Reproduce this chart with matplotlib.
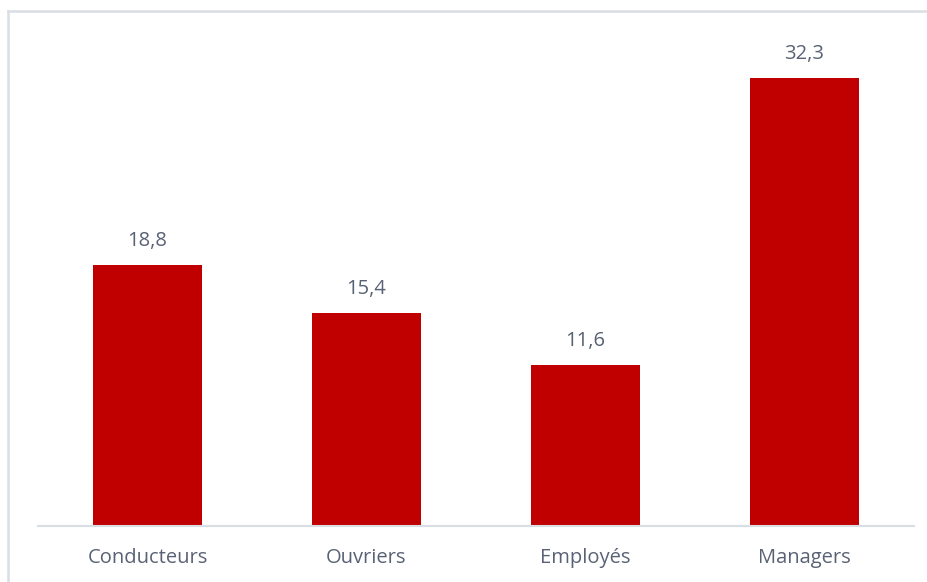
import matplotlib
matplotlib.use("Agg")
import matplotlib.pyplot as plt
from matplotlib.lines import Line2D

categories = ["Conducteurs", "Ouvriers", "Employés", "Managers"]
values = [18.8, 15.4, 11.6, 32.3]

bar_color = "#C00000"
text_color = "#596275"
line_color = "#D9DDE4"

plt.rcParams["font.family"] = ["Open Sans", "DejaVu Sans"]

fig = plt.figure(figsize=(9.28, 5.82), dpi=100)
W, H = 928, 582
ax = fig.add_axes([38 / W, (H - 526) / H, (914 - 38) / W, (526 - 20) / H])

x = range(len(categories))
bars = ax.bar(x, values, width=0.50, color=bar_color, zorder=2)

ax.set_xlim(-0.5, len(categories) - 0.5)
ax.set_ylim(0, 36.5)

for b, v in zip(bars, values):
    ax.annotate(f"{v:.1f}".replace(".", ","),
                (b.get_x() + b.get_width() / 2, v),
                xytext=(0, 10), textcoords="offset points",
                ha="center", va="bottom", fontsize=14.5, color=text_color)

for s in ("top", "right", "left"):
    ax.spines[s].set_visible(False)
ax.spines["bottom"].set_color(line_color)
ax.spines["bottom"].set_linewidth(1.5)
ax.set_yticks([])
ax.set_xticks(list(x))
ax.set_xticklabels(categories, fontsize=14.5, color=text_color)
ax.tick_params(axis="x", length=0, pad=16)

# outer frame, only top and left edges fall inside the image
fig.add_artist(Line2D([8 / W, 8 / W], [0, 1 - 11 / H], transform=fig.transFigure,
                      color=line_color, lw=1.8))
fig.add_artist(Line2D([8 / W, 1], [1 - 11 / H, 1 - 11 / H], transform=fig.transFigure,
                      color=line_color, lw=1.8))

fig.savefig("out.png", dpi=100)
